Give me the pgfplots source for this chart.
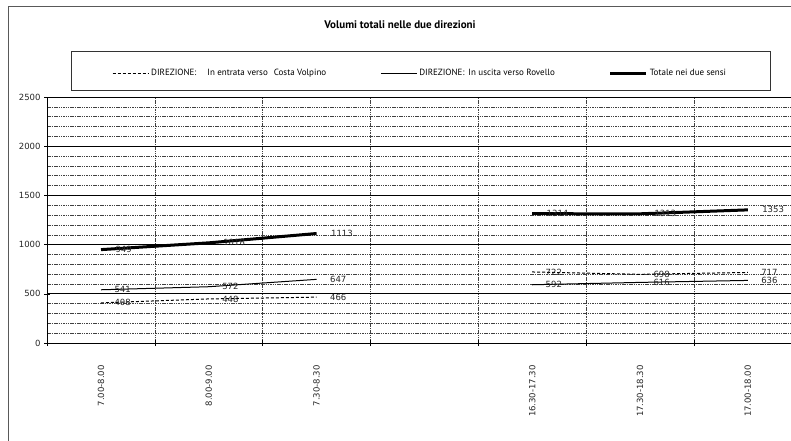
\documentclass[border=0pt]{standalone}
\usepackage{pgfplots}
\pgfplotsset{compat=1.18}
\usepackage{fontspec}
\setmainfont{PT Sans}
\newfontfamily\numfont{DejaVu Sans}
\begin{document}
\begin{tikzpicture}[x=1pt,y=1pt]
\useasboundingbox (0,0) rectangle (791,-440);
\clip (0,0) rectangle (791,-440);
\fill[white] (0,0) rectangle (791,-440);
\draw[black!65, line width=1pt] (8,-6) rectangle (830,-470);
\node[font=\bfseries\fontsize{11}{13}\selectfont] at (400,-25) {Volumi totali nelle due direzioni};
\draw[black!80, line width=0.9pt] (71,-51) rectangle (770,-90);
\begin{axis}[
  at={(47.1pt,-343pt)}, anchor=south west,
  scale only axis, width=754.6pt, height=246pt,
  xmin=-0.5, xmax=6.5, ymin=0, ymax=2500,
  axis x line*=bottom, axis y line*=left,
  axis line style={black, line width=0.8pt},
  xtick={-0.5,0.5,1.5,2.5,3.5,4.5,5.5,6.5},
  xticklabels={},
  extra x ticks={0,1,2,4,5,6},
  extra x tick labels={7.00-8.00,8.00-9.00,7.30-8.30,16.30-17.30,17.30-18.30,17.00-18.00},
  extra x tick style={major tick length=0pt, xmajorgrids=false,
    xticklabel style={rotate=90, anchor=east, inner xsep=22pt, font=\numfont\fontsize{8.5}{10}\selectfont, text=black!85}},
  ytick={0,500,...,2500},
  minor y tick num=4,
  yticklabel style={font=\numfont\fontsize{8.5}{10}\selectfont, text=black!85},
  /pgf/number format/assume math mode=true,
  /pgf/number format/1000 sep={},
  tick align=center, major tick length=6pt, minor tick length=0pt,
  tick style={black, line width=0.6pt},
  xmajorgrids, ymajorgrids, yminorgrids,
  major x grid style={black!75, line width=0.5pt, dash pattern=on 1.5pt off 0.8pt},
  major y grid style={black, line width=0.8pt},
  minor y grid style={black!75, line width=0.5pt, dash pattern=on 1.5pt off 0.8pt},
  unbounded coords=jump,
  nodes near coords,
  nodes near coords style={anchor=west, xshift=13pt, inner sep=0pt, font=\numfont\fontsize{8.5}{10}\selectfont, text=black!85},
  /pgf/number format/precision=0,
  legend columns=3,
  legend cell align=left,
  legend style={draw=none, fill=none, at={(axis description cs:0.086,1.0976)}, anchor=west, inner sep=0pt,
    font=\fontsize{9}{11}\selectfont,
    /tikz/every even column/.append style={column sep=52pt}},
  legend image code/.code={\draw[#1] (0pt,0pt) -- (36pt,0pt);},
]
\addplot[black, line width=1pt, dash pattern=on 3pt off 2pt] coordinates {(0,408) (1,448) (2,466) (3,nan) (4,722) (5,698) (6,717)};
\addlegendentry{DIREZIONE:\hspace{11pt}In entrata verso\hspace{6pt}Costa Volpino}
\addplot[black, line width=1pt] coordinates {(0,541) (1,572) (2,647) (3,nan) (4,592) (5,616) (6,636)};
\addlegendentry{DIREZIONE:\hspace{4pt}In uscita verso Rovello}
\addplot[black, line width=3pt] coordinates {(0,949) (1,1018) (2,1113) (3,nan) (4,1314) (5,1313) (6,1353)};
\addlegendentry{Totale nei due sensi}
\end{axis}
\end{tikzpicture}
\end{document}
